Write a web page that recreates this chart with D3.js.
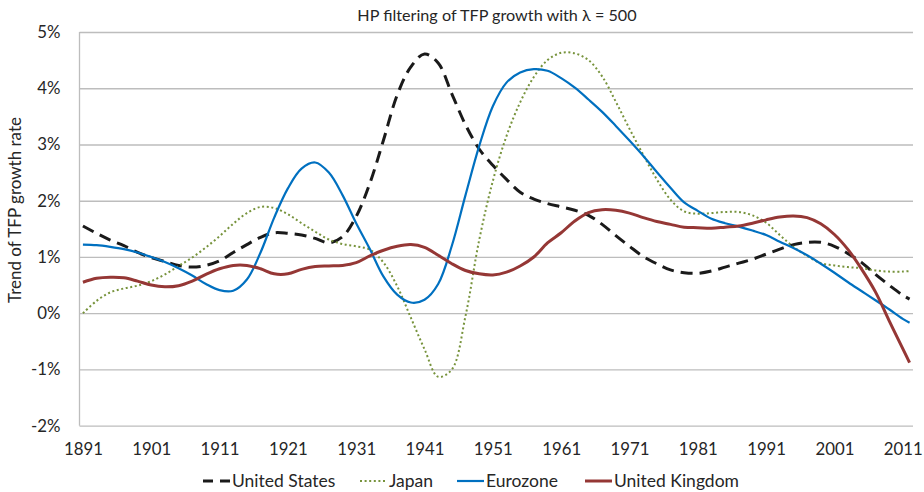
<!DOCTYPE html>
<html>
<head>
<meta charset="utf-8">
<script src="https://cdnjs.cloudflare.com/ajax/libs/d3/7.8.5/d3.min.js"></script>
<style>
  body { margin: 0; background: #fff; }
  svg { display: block; font-family: Lato, "Open Sans", sans-serif; }
</style>
</head>
<body>
<svg width="924" height="492"></svg>
<script>
// years sampled every 2 years, plus the last one
const years = [1891,1893,1895,1897,1899,1901,1903,1905,1907,1909,
  1911,1913,1915,1917,1919,1921,1923,1925,1927,1929,
  1931,1933,1935,1937,1939,1941,1943,1945,1947,1949,
  1951,1953,1955,1957,1959,1961,1963,1965,1967,1969,
  1971,1973,1975,1977,1979,1981,1983,1985,1987,1989,
  1991,1993,1995,1997,1999,2001,2003,2005,2007,2009,
  2011,2012];

const unitedStates = [1.55,1.42,1.30,1.20,1.08,0.99,0.92,0.85,0.82,0.85,
  0.93,1.08,1.22,1.35,1.43,1.42,1.39,1.33,1.25,1.36,
  1.72,2.31,3.08,3.88,4.38,4.61,4.45,3.90,3.35,2.92,
  2.63,2.38,2.15,2.03,1.95,1.89,1.83,1.74,1.58,1.38,
  1.19,1.01,0.88,0.77,0.72,0.71,0.75,0.82,0.89,0.96,
  1.05,1.14,1.22,1.26,1.26,1.19,1.06,0.90,0.69,0.50,
  0.32,0.25];

const japan = [0.00,0.22,0.37,0.44,0.49,0.57,0.69,0.84,0.99,1.17,
  1.37,1.59,1.78,1.89,1.87,1.76,1.60,1.45,1.31,1.23,
  1.19,1.13,0.90,0.48,-0.08,-0.64,-1.13,-1.00,-0.05,1.30,
  2.35,3.15,3.75,4.20,4.50,4.63,4.62,4.50,4.21,3.76,
  3.28,2.82,2.38,2.02,1.81,1.77,1.78,1.80,1.80,1.74,
  1.61,1.39,1.18,1.02,0.89,0.85,0.82,0.80,0.76,0.74,
  0.74,0.75];

const eurozone = [1.22,1.21,1.18,1.14,1.08,1.00,0.91,0.80,0.67,0.52,
  0.41,0.40,0.60,1.08,1.70,2.22,2.57,2.68,2.50,2.10,
  1.60,1.14,0.65,0.33,0.19,0.24,0.52,1.20,2.10,2.97,
  3.68,4.10,4.28,4.34,4.31,4.18,4.01,3.80,3.58,3.33,
  3.07,2.80,2.51,2.23,1.97,1.82,1.68,1.60,1.54,1.47,
  1.39,1.27,1.16,1.03,0.88,0.72,0.55,0.39,0.23,0.07,
  -0.10,-0.17];

const unitedKingdom = [0.55,0.62,0.64,0.63,0.57,0.50,0.47,0.49,0.57,0.69,
  0.79,0.85,0.85,0.79,0.70,0.70,0.78,0.83,0.84,0.85,
  0.90,1.02,1.12,1.19,1.22,1.17,1.03,0.88,0.76,0.70,
  0.68,0.73,0.84,1.00,1.25,1.43,1.64,1.79,1.84,1.83,
  1.78,1.70,1.63,1.58,1.53,1.52,1.51,1.53,1.55,1.60,
  1.66,1.71,1.73,1.70,1.59,1.40,1.13,0.78,0.38,-0.13,
  -0.63,-0.88];

const xTicks = [1891,1901,1911,1921,1931,1941,1951,1961,1971,1981,1991,2001,2011];
const yTicks = [-2,-1,0,1,2,3,4,5];

const series = [
  { name: 'United States', values: unitedStates, color: '#1a1a1a', width: 3, dash: '12,7', legendDash: '10,7' },
  { name: 'Japan', values: japan, color: '#77933c', width: 2, dash: '2,2.6', legendDash: '2,2.6' },
  { name: 'Eurozone', values: eurozone, color: '#0070c0', width: 2.2, dash: null, legendDash: null },
  { name: 'United Kingdom', values: unitedKingdom, color: '#953735', width: 3, dash: null, legendDash: null }
];

const svg = d3.select('svg');
const margin = { left: 79.5, right: 11, top: 32, bottom: 66.3 };
const width = +svg.attr('width');
const height = +svg.attr('height');

const x = d3.scaleLinear()
  .domain([1890.5, 2012.5])
  .range([margin.left, width - margin.right]);
const y = d3.scaleLinear()
  .domain([-2, 5])
  .range([height - margin.bottom, margin.top]);

// gridlines
svg.append('g')
  .attr('transform', `translate(${margin.left},0)`)
  .call(d3.axisLeft(y).tickValues(yTicks).tickSize(-(x.range()[1] - margin.left)).tickFormat(''))
  .call(g => g.select('.domain').remove())
  .call(g => g.selectAll('line').attr('stroke', '#bdbdbd').attr('stroke-width', 1.3));

// left axis line
svg.append('line')
  .attr('x1', margin.left).attr('x2', margin.left)
  .attr('y1', y(5)).attr('y2', y(-2))
  .attr('stroke', '#bdbdbd').attr('stroke-width', 1.3);

// y tick labels
svg.append('g')
  .attr('transform', `translate(${margin.left},0)`)
  .call(d3.axisLeft(y).tickValues(yTicks).tickSize(0).tickPadding(19).tickFormat(d => d + '%'))
  .call(g => g.select('.domain').remove())
  .call(g => g.selectAll('text').attr('font-size', 16.8).attr('fill', '#262626').attr('font-family', 'Lato'));

// x tick labels
svg.append('g')
  .attr('transform', `translate(0,${y(-2)})`)
  .call(d3.axisBottom(x).tickValues(xTicks).tickSize(0).tickPadding(17).tickFormat(d3.format('d')))
  .call(g => g.select('.domain').remove())
  .call(g => g.selectAll('text').attr('font-size', 16.8).attr('fill', '#262626').attr('font-family', 'Lato'));

const line = d3.line()
  .x((d, i) => x(years[i]))
  .y(d => y(d))
  .curve(d3.curveCatmullRom.alpha(0.5));

svg.append('g')
  .selectAll('path')
  .data(series)
  .join('path')
  .attr('d', d => line(d.values))
  .attr('fill', 'none')
  .attr('stroke', d => d.color)
  .attr('stroke-width', d => d.width)
  .attr('stroke-dasharray', d => d.dash)
  .attr('stroke-linejoin', 'round');

// title
svg.append('text')
  .attr('x', 497).attr('y', 21)
  .attr('text-anchor', 'middle')
  .attr('font-size', 16.2)
  .attr('fill', '#262626')
  .text('HP filtering of TFP growth with λ = 500');

// y axis title
svg.append('text')
  .attr('transform', 'translate(21,210) rotate(-90)')
  .attr('text-anchor', 'middle')
  .attr('font-size', 17)
  .attr('fill', '#262626')
  .text('Trend of TFP growth rate');

// legend
const legendX = [203, 360, 457, 585];
const legend = svg.append('g')
  .selectAll('g')
  .data(series)
  .join('g')
  .attr('transform', (d, i) => `translate(${legendX[i]},481)`);

legend.append('line')
  .attr('x1', 0).attr('x2', 27)
  .attr('stroke', d => d.color)
  .attr('stroke-width', d => d.width)
  .attr('stroke-dasharray', d => d.legendDash);

legend.append('text')
  .attr('x', 29).attr('y', 6)
  .attr('font-size', 17.5)
  .attr('fill', '#262626')
  .text(d => d.name);
</script>
</body>
</html>
